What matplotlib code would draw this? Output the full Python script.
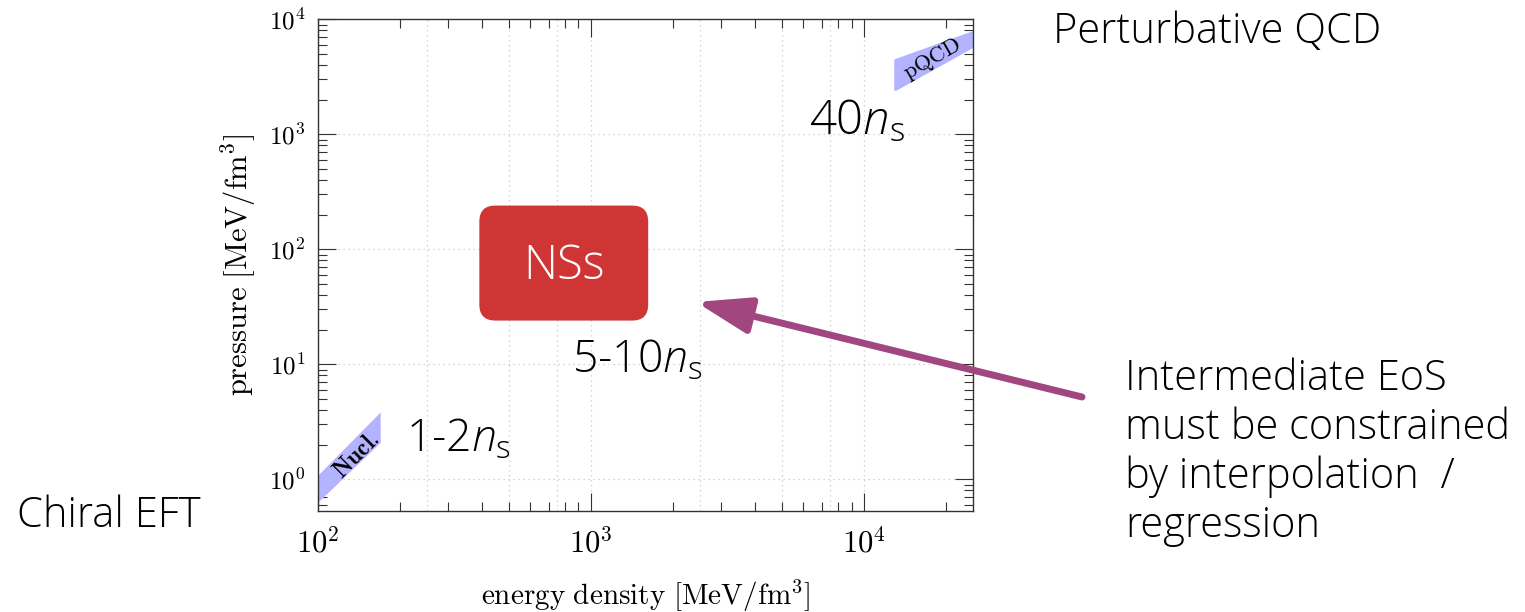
import numpy as np
import matplotlib
matplotlib.use('Agg')
import matplotlib.pyplot as plt
import matplotlib.ticker as ticker
from matplotlib.patches import FancyBboxPatch, FancyArrowPatch
from matplotlib.transforms import IdentityTransform

plt.rcParams.update({'mathtext.fontset': 'cm',
                     'mathtext.rm': 'Open Sans:light',
                     'mathtext.it': 'Open Sans:italic:light',
                     'mathtext.bf': 'Open Sans:bold'})

# axis ranges and grid
e_lim = (1e2, 2.5e4)
p_lim = (0.53, 1e4)
e_grid = [1e2, 2.5e2, 5e2, 7.5e2, 1e3, 2.5e3, 5e3, 7.5e3, 1e4]

# regions
nucl_e = [100, 169]
nucl_p_lo = [0.635, 2.1]
nucl_p_hi = [1.09, 3.85]
pqcd_e = [1.3e4, 2.5e4]
pqcd_p_lo = [2.47e3, 5.87e3]
pqcd_p_hi = [4.43e3, 7.75e3]
nss_e = [390, 1620]
nss_p = [24, 240]

band_col = '#b3b3ff'
nss_col = '#cf3534'
arrow_col = '#a2467f'
sans = 'Open Sans'

fig = plt.figure(figsize=(15.25, 6.12), dpi=100)
ax = fig.add_axes([0.2085, 0.165, 0.4293, 0.8035])
ax.set_xscale('log')
ax.set_yscale('log')
ax.set_xlim(e_lim)
ax.set_ylim(p_lim)

for e in e_grid:
    ax.axvline(e, color='#c8c8c8', lw=0.9, ls=(0, (1, 3)), zorder=0)
ax.yaxis.grid(True, which='major', color='#c8c8c8', lw=0.9, ls=(0, (1, 3)), zorder=0)
ax.set_axisbelow(True)

pow10 = ticker.FuncFormatter(lambda v, pos: r'$10^{%d}$' % round(np.log10(v)))
ax.xaxis.set_major_formatter(pow10)
ax.yaxis.set_major_formatter(pow10)
ax.xaxis.set_minor_locator(ticker.LogLocator(base=10., subs=np.arange(2, 10), numticks=100))
ax.yaxis.set_minor_locator(ticker.LogLocator(base=10., subs=np.arange(2, 10), numticks=100))
ax.xaxis.set_minor_formatter(ticker.NullFormatter())
ax.yaxis.set_minor_formatter(ticker.NullFormatter())
ax.tick_params(which='both', direction='in', top=True, right=True, color='#333333', width=0.8)
ax.tick_params(which='major', length=13)
ax.tick_params(which='minor', length=6.5)
ax.tick_params(axis='x', which='major', pad=12, labelsize=22)
ax.tick_params(axis='y', which='major', pad=9, labelsize=18)
for s in ax.spines.values():
    s.set_linewidth(1.0)
    s.set_color('#333333')

ax.set_xlabel(r'$\mathrm{energy\ density\ [MeV/fm^3]}$', fontsize=21)
ax.set_ylabel(r'$\mathrm{pressure\ [MeV/fm^3]}$', fontsize=22)
ax.xaxis.set_label_coords(0.5, -0.135)
ax.yaxis.set_label_coords(-0.09, 0.5)

# bands
ax.fill_between(nucl_e, nucl_p_lo, nucl_p_hi, color=band_col, lw=0, zorder=2)
ax.fill_between(pqcd_e, pqcd_p_lo, pqcd_p_hi, color=band_col, lw=2, joinstyle='round', zorder=2)
ax.text(138, 1.63, r'$\mathbf{Nucl.}$', rotation=45, ha='center', va='center',
        fontsize=17, math_fontfamily='cm', zorder=3)
ax.text(1.78e4, 4.5e3, r'$\mathrm{pQCD}$', rotation=30, ha='center', va='center',
        fontsize=16, math_fontfamily='cm', zorder=3)

# NSs box (drawn in pixels so the corners stay round on log axes)
(x0, y0), (x1, y1) = ax.transData.transform([(nss_e[0], nss_p[0]), (nss_e[1], nss_p[1])])
box = FancyBboxPatch((x0, y0), x1 - x0, y1 - y0, boxstyle='round,pad=0,rounding_size=16',
                     transform=IdentityTransform(), facecolor=nss_col, edgecolor='none', zorder=4)
fig.patches.append(box)
box.set_figure(fig)
fig.text((x0 + x1) / 2 / fig.bbox.width, 1 - 279 / 612, 'NSs', color='white', fontsize=34,
         family=sans, weight='light', ha='center', va='baseline', zorder=5)

# density labels
lab = dict(family=sans, weight='light', ha='left', va='baseline', math_fontfamily='custom')
ax.text(6.3e3, 1e3, r'40$n_\mathrm{s}$', fontsize=34, **lab)
ax.text(851, 8.4, r'5-10$n_\mathrm{s}$', fontsize=32, **lab)
ax.text(210, 1.73, r'1-2$n_\mathrm{s}$', fontsize=32, **lab)

# outer labels
side = dict(fontsize=30, family=sans, weight='light', ha='left', va='baseline')
fig.text(1053 / 1525, 1 - 43 / 612, 'Perturbative QCD', **side)
fig.text(17 / 1525, 1 - 527 / 612, 'Chiral EFT', **side)
note = ['Intermediate EoS', 'must be constrained', 'by interpolation  /', 'regression']
for i, line in enumerate(note):
    fig.text(1125 / 1525, 1 - (390 + 49 * i) / 612, line, **side)

arrow = FancyArrowPatch((1082 / 1525, 1 - 397 / 612), (696 / 1525, 1 - 302 / 612),
                        transform=fig.transFigure, arrowstyle='-|>,head_length=33,head_width=11',
                        mutation_scale=1, lw=5, color=arrow_col, capstyle='round',
                        shrinkA=0, shrinkB=0, zorder=6)
fig.patches.append(arrow)
arrow.set_figure(fig)

fig.savefig('out.png', dpi=100, facecolor='white')
